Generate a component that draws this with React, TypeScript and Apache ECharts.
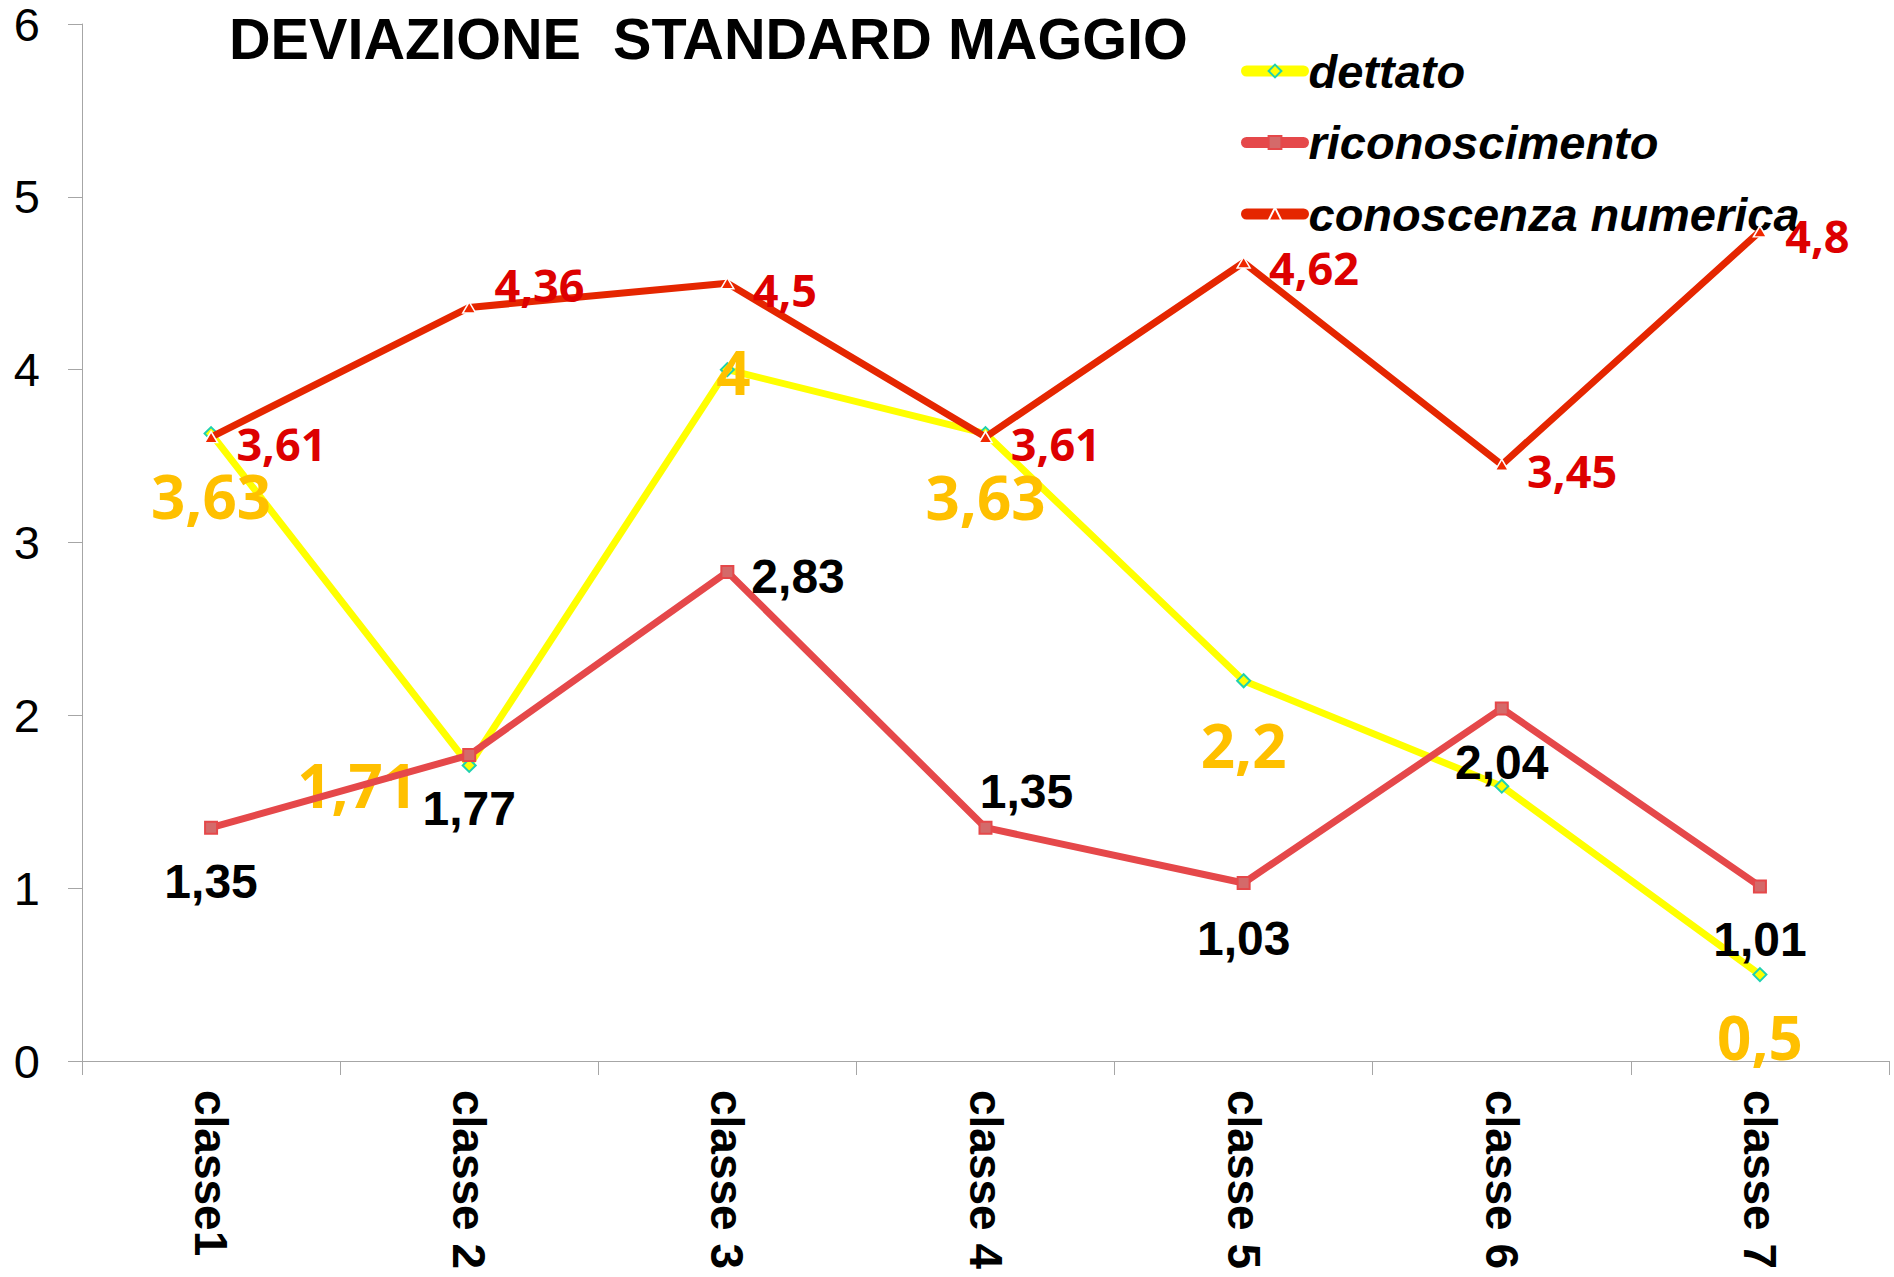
import React, { useEffect, useRef } from "react";
import * as echarts from "echarts";

const categories = ["classe1", "classe 2", "classe 3", "classe 4", "classe 5", "classe 6", "classe 7"];
const dettato = [3.63, 1.71, 4, 3.63, 2.2, 1.59, 0.5];
const riconoscimento = [1.35, 1.77, 2.83, 1.35, 1.03, 2.04, 1.01];
const conoscenza = [3.61, 4.36, 4.5, 3.61, 4.62, 3.45, 4.8];
const yTicks = { min: 0, max: 6, interval: 1 };

// label placement per point (style only)
const dettatoLabels: any[] = [
  { position: "inside", offset: [0, 62] },
  { position: "inside", offset: [-112, 20] },
  { position: "inside", offset: [6, 2] },
  { position: "inside", offset: [0, 63] },
  { position: "inside", offset: [0, 64] },
  { show: false },
  { position: "inside", offset: [0, 62] },
];
const riconLabels: any[] = [
  { position: "inside", offset: [0, 54] },
  { position: "inside", offset: [0, 53] },
  { position: "right", distance: 17, offset: [0, 5] },
  { position: "inside", offset: [41, -36] },
  { position: "inside", offset: [0, 56] },
  { position: "inside", offset: [0, 54] },
  { position: "inside", offset: [0, 53] },
];
const conoscLabels: any[] = [
  { offset: [0, 6] },
  { offset: [0, -23] },
  { offset: [0, 6] },
  { offset: [0, 6] },
  { offset: [0, 5] },
  { offset: [0, 6] },
  { offset: [0, 4] },
];

const fmt = (p: any) => String(p.value).replace(".", ",");

export default function App() {
  const ref = useRef<HTMLDivElement>(null);
  useEffect(() => {
    document.body.style.margin = "0";
    document.body.style.overflow = "hidden";
    const chart = echarts.init(ref.current!, null, { renderer: "svg" });
    const sans = "Liberation Sans, Arial, sans-serif";
    const open = "Open Sans, sans-serif";
    chart.setOption({
      animation: false,
      backgroundColor: "#ffffff",
      title: {
        text: "DEVIAZIONE  STANDARD MAGGIO",
        left: 229,
        top: 10,
        padding: 0,
        textStyle: { fontFamily: sans, fontWeight: "bold", fontSize: 57.6, color: "#000", lineHeight: 58 },
      },
      legend: {
        orient: "vertical",
        left: 1236,
        top: 41,
        itemWidth: 57,
        itemHeight: 16,
        itemGap: 21.5,
        textStyle: { fontFamily: sans, fontWeight: "bold", fontStyle: "italic", fontSize: 47, color: "#000", lineHeight: 50 },
        lineStyle: { width: 11, cap: "round" },
        data: ["dettato", "riconoscimento", "conoscenza numerica"],
      },
      grid: { left: 82, right: 5, top: 24, bottom: 216, containLabel: false },
      xAxis: {
        type: "category",
        data: categories,
        boundaryGap: true,
        axisLine: { lineStyle: { color: "#A6A6A6", width: 1 } },
        axisTick: { show: true, length: 14, lineStyle: { color: "#A6A6A6" } },
        axisLabel: {
          rotate: -90,
          margin: 29,
          interval: 0,
          fontFamily: sans,
          fontWeight: "bold",
          fontSize: 46,
          color: "#000",
        },
        splitLine: { show: false },
      },
      yAxis: {
        type: "value",
        min: yTicks.min,
        max: yTicks.max,
        interval: yTicks.interval,
        axisLine: { show: true, lineStyle: { color: "#A6A6A6", width: 1 } },
        axisTick: { show: true, length: 14, lineStyle: { color: "#A6A6A6" } },
        axisLabel: { margin: 42, fontFamily: sans, fontSize: 47, color: "#000" },
        splitLine: { show: false },
      },
      series: [
        {
          name: "dettato",
          type: "line",
          data: dettato.map((v, i) => ({ value: v, label: dettatoLabels[i] })),
          symbol: "diamond",
          symbolSize: 13,
          showAllSymbol: true,
          lineStyle: { color: "#FFFF00", width: 7 },
          itemStyle: { color: "#FFFF00", borderColor: "#1FD1B0", borderWidth: 2 },
          label: {
            show: true,
            formatter: fmt,
            fontFamily: open,
            fontWeight: "bold",
            fontSize: 60,
            color: "#FFC000",
          },
          z: 2,
        },
        {
          name: "riconoscimento",
          type: "line",
          data: riconoscimento.map((v, i) => ({ value: v, label: riconLabels[i] })),
          symbol: "rect",
          symbolSize: 12,
          showAllSymbol: true,
          lineStyle: { color: "#E5484A", width: 7 },
          itemStyle: { color: "#D46A6A", borderColor: "#E5484A", borderWidth: 2 },
          label: {
            show: true,
            formatter: fmt,
            fontFamily: sans,
            fontWeight: "bold",
            fontSize: 48,
            color: "#000",
          },
          z: 3,
        },
        {
          name: "conoscenza numerica",
          type: "line",
          data: conoscenza.map((v, i) => ({ value: v, label: conoscLabels[i] })),
          symbol: "triangle",
          symbolSize: [13, 11],
          showAllSymbol: true,
          lineStyle: { color: "#E52600", width: 7 },
          itemStyle: { color: "#F02800", borderColor: "#FFFFFF", borderWidth: 1.5 },
          label: {
            show: true,
            position: "right",
            distance: 18,
            formatter: fmt,
            fontFamily: open,
            fontWeight: "bold",
            fontSize: 45,
            color: "#DD0000",
          },
          z: 4,
        },
      ],
    });
    return () => chart.dispose();
  }, []);
  return <div ref={ref} style={{ width: 1894, height: 1277 }} />;
}
